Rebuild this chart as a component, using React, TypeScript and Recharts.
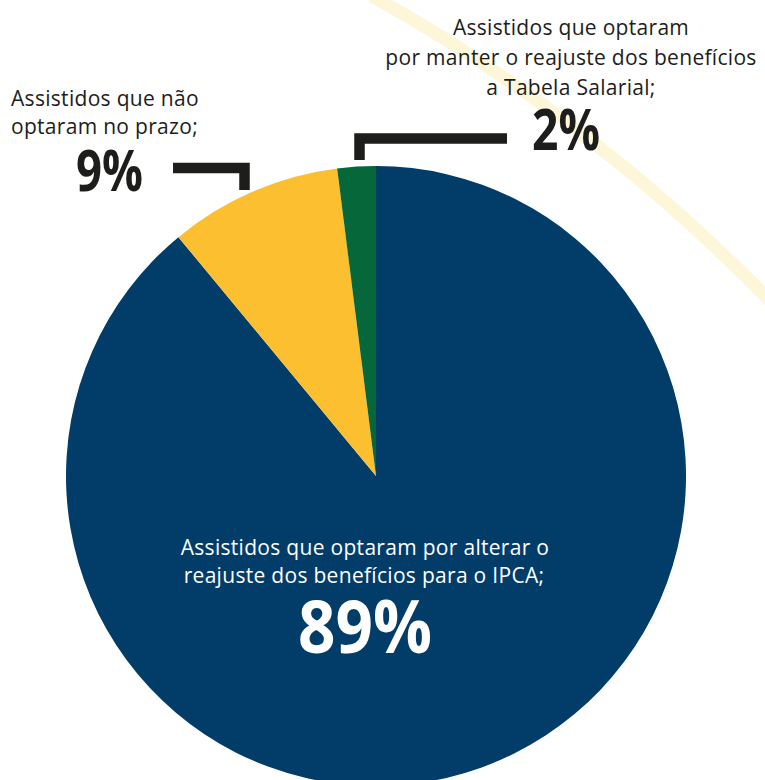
import React from 'react';
import { PieChart, Pie, Cell } from 'recharts';

// Shares of retirees by option chosen (clockwise from 12 o'clock)
const names = [
  ['Assistidos que optaram por alterar o', 'reajuste dos benefícios para o IPCA;'],
  ['Assistidos que não', 'optaram no prazo;'],
  ['Assistidos que optaram', 'por manter o reajuste dos benefícios', 'a Tabela Salarial;'],
];
const values = [89, 9, 2];
const colors = ['#013d68', '#fcbf2f', '#05673a'];

const W = 765;
const H = 780;
const textFont = '"Open Sans", "Noto Sans", sans-serif';

export default function App() {
  const data = values.map((v, i) => ({ name: names[i].join(' '), value: v }));
  const ink = '#1d1d1b';
  const small = { fontFamily: textFont, fontSize: 21, letterSpacing: 0.3 };
  const big = { fontFamily: textFont, fontWeight: 700, lengthAdjust: 'spacingAndGlyphs' as const };

  return (
    <div style={{ position: 'absolute', left: 0, top: 0, width: W, height: H, overflow: 'hidden', background: '#fff' }}>
      {/* faint decorative arc in the background */}
      <svg width={W} height={H} style={{ position: 'absolute', left: 0, top: 0 }}>
        <path d="M 372 -4 A 1737 1737 0 0 1 772 303" fill="none" stroke="#fef6d8" strokeWidth={13} />
      </svg>

      <div style={{ position: 'absolute', left: 0, top: 0 }}>
        <PieChart width={W} height={H} margin={{ top: 0, right: 0, bottom: 0, left: 0 }}>
          <Pie
            data={data}
            dataKey="value"
            cx={376}
            cy={476}
            outerRadius={310}
            startAngle={90}
            endAngle={-270}
            stroke="none"
            isAnimationActive={false}
          >
            {data.map((d, i) => (
              <Cell key={d.name} fill={colors[i]} />
            ))}
          </Pie>
        </PieChart>
      </div>

      {/* labels and brackets */}
      <svg width={W} height={H} style={{ position: 'absolute', left: 0, top: 0 }}>
        {/* 9% label */}
        <text {...small} fill={ink}>
          <tspan x={11} y={106}>{names[1][0]}</tspan>
          <tspan x={11} y={134}>{names[1][1]}</tspan>
        </text>
        <text x={76} y={191} textLength={67} fontSize={57} {...big} fill={ink}>
          {values[1]}%
        </text>
        <polyline points="173,168 244.5,168 244.5,190" fill="none" stroke={ink} strokeWidth={10.5} />

        {/* 2% label */}
        <text {...small} fill={ink} textAnchor="middle">
          <tspan x={571} y={35}>{names[2][0]}</tspan>
          <tspan x={571} y={65}>{names[2][1]}</tspan>
          <tspan x={571} y={95}>{names[2][2]}</tspan>
        </text>
        <text x={532} y={150} textLength={68} fontSize={58} {...big} fill={ink}>
          {values[2]}%
        </text>
        <polyline points="507,138.5 359.5,138.5 359.5,160" fill="none" stroke={ink} strokeWidth={10.5} />

        {/* 89% label */}
        <text {...small} fill="#fff" textAnchor="middle">
          <tspan x={365} y={555}>{names[0][0]}</tspan>
          <tspan x={364} y={583}>{names[0][1]}</tspan>
        </text>
        <text x={298} y={653} textLength={134} fontSize={73} {...big} fill="#fff">
          {values[0]}%
        </text>
      </svg>
    </div>
  );
}
